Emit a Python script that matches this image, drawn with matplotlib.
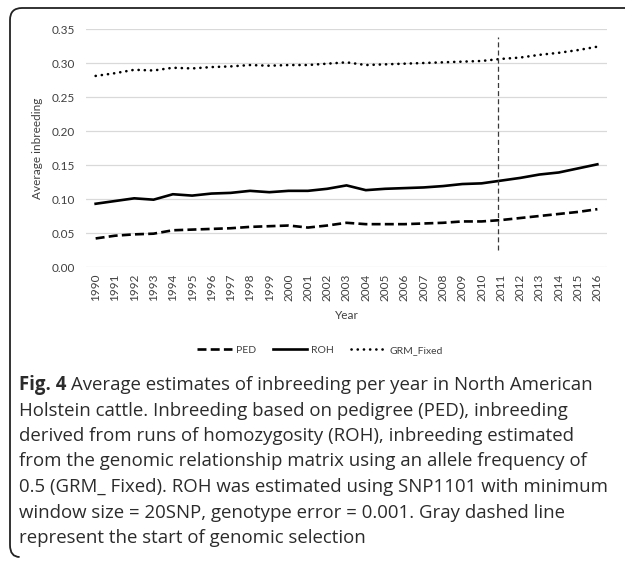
import matplotlib
matplotlib.use("Agg")
import matplotlib.pyplot as plt
from matplotlib.path import Path
from matplotlib.patches import PathPatch
import numpy as np

years = [str(y) for y in range(1990, 2017)]
ped = [0.042, 0.046, 0.048, 0.049, 0.054, 0.055, 0.056, 0.057, 0.059, 0.060, 0.061,
       0.058, 0.061, 0.065, 0.063, 0.063, 0.063, 0.064, 0.065, 0.067, 0.067, 0.069,
       0.072, 0.075, 0.078, 0.081, 0.085]
roh = [0.093, 0.097, 0.101, 0.099, 0.107, 0.105, 0.108, 0.109, 0.112, 0.110, 0.112,
       0.112, 0.115, 0.120, 0.113, 0.115, 0.116, 0.117, 0.119, 0.122, 0.123, 0.127,
       0.131, 0.136, 0.139, 0.145, 0.151]
grm = [0.281, 0.285, 0.290, 0.289, 0.293, 0.292, 0.294, 0.295, 0.297, 0.296, 0.297,
       0.297, 0.299, 0.301, 0.297, 0.298, 0.299, 0.300, 0.301, 0.302, 0.303, 0.306,
       0.308, 0.312, 0.315, 0.319, 0.324]
yticks = [0.00, 0.05, 0.10, 0.15, 0.20, 0.25, 0.30, 0.35]
gs_year_pos = 20.85
gs_range = (0.025, 0.338)

caption_lines = [
    "Average estimates of inbreeding per year in North American",
    "Holstein cattle. Inbreeding based on pedigree (PED), inbreeding",
    "derived from runs of homozygosity (ROH), inbreeding estimated",
    "from the genomic relationship matrix using an allele frequency of",
    "0.5 (GRM_ Fixed). ROH was estimated using SNP1101 with minimum",
    "window size = 20SNP, genotype error = 0.001. Gray dashed line",
    "represent the start of genomic selection",
]

W, H = 625, 561
fig = plt.figure(figsize=(W / 100, H / 100), dpi=100)
plt.rcParams['font.family'] = ['Lato', 'DejaVu Sans']

ax = fig.add_axes([86 / W, 1 - 267 / H, 521 / W, 238 / H])
x = np.arange(len(years))
lw = 1.9
ax.plot(x, ped, color='black', lw=lw, linestyle=(0, (3.4, 1.6)), label='PED')
ax.plot(x, roh, color='black', lw=lw, linestyle='-', label='ROH')
ax.plot(x, grm, color='black', lw=lw, linestyle=(0, (0.05, 2.3)),
        dash_capstyle='round', label='GRM_Fixed')
ax.plot([gs_year_pos, gs_year_pos], gs_range, color='#3a3a3a', lw=0.9,
        linestyle=(0, (4, 2.5)))

ax.set_xlim(-0.5, len(years) - 0.5)
ax.set_ylim(0, 0.35)
ax.set_yticks(yticks)
ax.set_yticklabels([f"{v:.2f}" for v in yticks], fontsize=8.5, color='#404040')
ax.set_xticks(x)
ax.set_xticklabels(years, rotation=90, fontsize=8.5, color='#404040')
ax.tick_params(length=0, pad=8)
ax.tick_params(axis='x', pad=5)
ax.grid(axis='y', color='#d9d9d9', lw=0.9)
ax.set_axisbelow(True)
for s in ax.spines.values():
    s.set_visible(False)
ax.set_xlabel("Year", fontsize=8.5, color='#404040', labelpad=6)
ax.set_ylabel("Average inbreeding", fontsize=8.5, color='#404040', labelpad=6)

leg = fig.legend(loc='center', bbox_to_anchor=(320 / W, 1 - 350 / H), ncol=3,
                 frameon=False, fontsize=7.5, handlelength=3.3, columnspacing=1.6,
                 handletextpad=0.4, labelcolor='#404040')

# caption
cap_font = ['Open Sans', 'DejaVu Sans']
fs = 13.4
x0 = 19
y0 = 385
dy = 25.5
cap_color = '#2b2b2b'
t = fig.text(x0 / W, 1 - y0 / H, "Fig. 4", fontsize=fs, fontweight='bold',
             va='center', ha='left', color=cap_color, family=cap_font)
fig.canvas.draw()
bb = t.get_window_extent()
fig.text((bb.x1 + 5) / W, 1 - y0 / H, caption_lines[0], fontsize=fs,
         va='center', ha='left', color=cap_color, family=cap_font)
for i, line in enumerate(caption_lines[1:], start=1):
    fig.text(x0 / W, 1 - (y0 + i * dy) / H, line, fontsize=fs, va='center',
             ha='left', color=cap_color, family=cap_font)

# border
r = 12
left, top, bot = 10, 8, 557
verts = [(W, top), (left + r, top), (left, top), (left, top + r),
         (left, bot - r), (left, bot), (left + r * 0.8, bot)]
codes = [Path.MOVETO, Path.LINETO, Path.CURVE3, Path.CURVE3,
         Path.LINETO, Path.CURVE3, Path.CURVE3]
verts_fig = [(vx / W, 1 - vy / H) for vx, vy in verts]
patch = PathPatch(Path(verts_fig, codes), transform=fig.transFigure,
                  fill=False, lw=1.3, edgecolor='#222222')
fig.patches.append(patch)

fig.savefig("out.png", dpi=100)
